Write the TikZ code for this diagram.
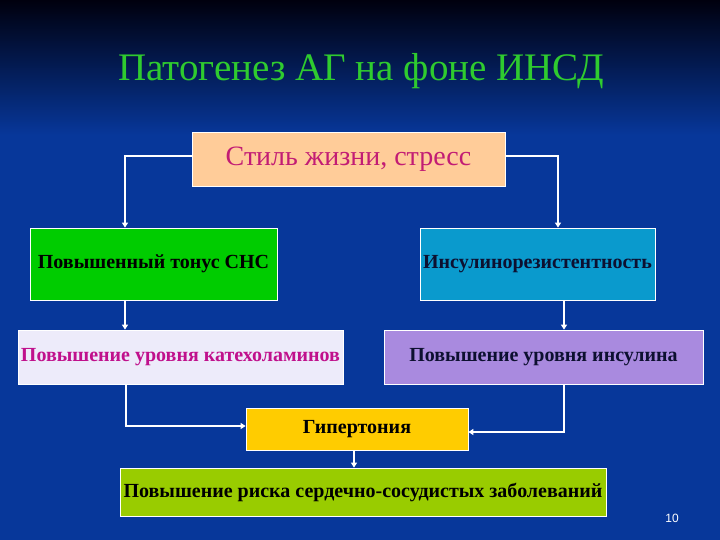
\documentclass[tikz,border=0pt]{standalone}
\usepackage{fontspec}
\setmainfont{Liberation Serif}
\newfontfamily\numfont{Liberation Sans}
\usetikzlibrary{arrows.meta}
\definecolor{SlideBlue}{HTML}{07379A}
\definecolor{SlideDark}{HTML}{00000E}
\definecolor{TitleGreen}{HTML}{2FCB2F}
\definecolor{PeachFill}{HTML}{FFCC99}
\definecolor{LifeText}{HTML}{C21C74}
\definecolor{SnsFill}{HTML}{00CC00}
\definecolor{InsFill}{HTML}{0A9ACD}
\definecolor{CatFill}{HTML}{EDEBFA}
\definecolor{CatText}{HTML}{C0108C}
\definecolor{InslFill}{HTML}{A98ADF}
\definecolor{HypFill}{HTML}{FFCC00}
\definecolor{RiskFill}{HTML}{99CC00}
\definecolor{DarkText}{HTML}{0D1030}

\tikzset{
  box/.style={draw=white,line width=0.8pt,inner sep=0pt,font=\fontsize{20}{22}\selectfont\bfseries},
  arr/.style={white,line width=1.4pt,-{Triangle[width=6pt,length=5pt]}}
}

\begin{document}
\begin{tikzpicture}[x=1pt,y=-1pt]
  \useasboundingbox (0,0) rectangle (720,540);
  \fill[SlideBlue] (0,0) rectangle (720,540);
  \shade[top color=SlideDark,bottom color=SlideBlue] (0,0) rectangle (720,135);
  \node[TitleGreen,font=\fontsize{39}{42}\selectfont] (title) at (361,71) {Патогенез АГ на фоне ИНСД};
  % boxes
  \node[box,fill=PeachFill,text=LifeText,minimum width=313pt,minimum height=54pt,font=\fontsize{28}{30}\selectfont] (life) at (348.5,159) {\raisebox{-2pt}{Стиль жизни, стресс}};
  \node[box,fill=SnsFill,text=black,minimum width=247pt,minimum height=72pt] (sns) at (153.5,264) {\raisebox{-2pt}{Повышенный тонус СНС}};
  \node[box,fill=InsFill,text=DarkText,minimum width=235pt,minimum height=72pt] (ins) at (537.5,264) {\raisebox{-2pt}{Инсулинорезистентность}};
  \node[box,fill=CatFill,text=CatText,minimum width=325pt,minimum height=54pt] (cat) at (180.5,357) {Повышение уровня катехоламинов};
  \node[box,fill=InslFill,text=DarkText,minimum width=319pt,minimum height=54pt] (insl) at (543.5,357) {Повышение уровня инсулина};
  \node[box,fill=HypFill,text=black,minimum width=222pt,minimum height=42pt] (hyp) at (357,429) {\raisebox{-2pt}{Гипертония}};
  \node[box,fill=RiskFill,text=black,minimum width=486pt,minimum height=48pt] (risk) at (363,492) {Повышение риска сердечно-сосудистых заболеваний};
  \node[white,font=\numfont\fontsize{12}{14}\selectfont] (num) at (672,518) {10};
  % connectors
  \draw[arr] ([yshift=3pt]life.west) -| ([xshift=-28.5pt]sns.north);
  \draw[arr] ([yshift=3pt]life.east) -| ([xshift=20.5pt]ins.north);
  \draw[arr] ([xshift=-28.5pt]sns.south) -- ([xshift=-28.5pt]sns.south |- cat.north);
  \draw[arr] ([xshift=26.5pt]ins.south) -- ([xshift=26.5pt]ins.south |- insl.north);
  \draw[arr] ([xshift=-54.5pt]cat.south) |- ([yshift=3pt]hyp.west);
  \draw[arr] ([xshift=20.5pt]insl.south) |- ([yshift=-3pt]hyp.east);
  \draw[arr] ([xshift=-3pt]hyp.south) -- ([xshift=-3pt]hyp.south |- risk.north);
\end{tikzpicture}
\end{document}
